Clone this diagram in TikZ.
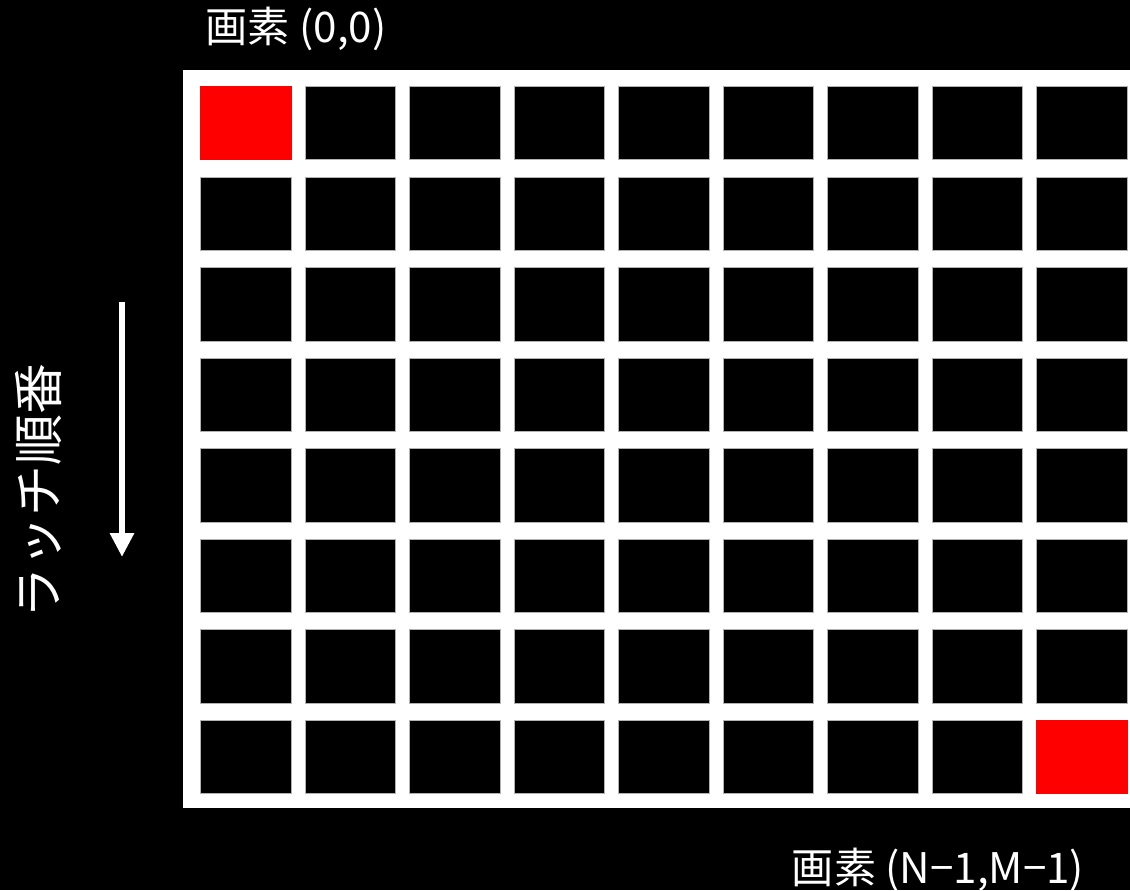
\documentclass[tikz,border=0pt]{standalone}
\usepackage{fontspec}
\newfontfamily\jpfont{Noto Sans CJK JP}
\usetikzlibrary{arrows.meta}

\tikzset{
  pixel/.style={fill=black, draw=gray!60, line width=0.3pt, inner sep=0pt, minimum width=1.82cm, minimum height=1.47cm, anchor=north west},
  label/.style={text=white, inner sep=0pt, font=\jpfont\fontsize{24}{26}\selectfont}
}

\begin{document}
\begin{tikzpicture}[x=0.02cm, y=-0.02cm, >={Triangle[width=0.46cm, length=0.48cm]}]
\fill[black] (0,0) rectangle (1130,890);
\useasboundingbox (0,0) rectangle (1130,890);
% panel
\fill[white] (183,70) rectangle (1130,808);
\foreach \r in {0,...,7}
  \foreach \c in {0,...,8}
    \node[pixel] (p-\r-\c) at (200+\c*104.5, 86+\r*90.57) {};
\fill[red] (p-0-0.north west) rectangle (p-0-0.south east);
\fill[red] (p-7-8.north west) rectangle (p-7-8.south east);
% labels
\node[label] (first) at (296,29) {画素 (0,0)};
\node[label] (last) at (938,870) {画素 (N−1,M−1)};
\node[label, rotate=90, font=\jpfont\fontsize{29}{31}\selectfont] (order) at (38,491) {ラッチ順番};
% direction
\coordinate (a) at (122,302);
\coordinate (b) at (122,557);
\draw[->, white, line width=3.4pt] (a) -- (b);
\end{tikzpicture}
\end{document}
